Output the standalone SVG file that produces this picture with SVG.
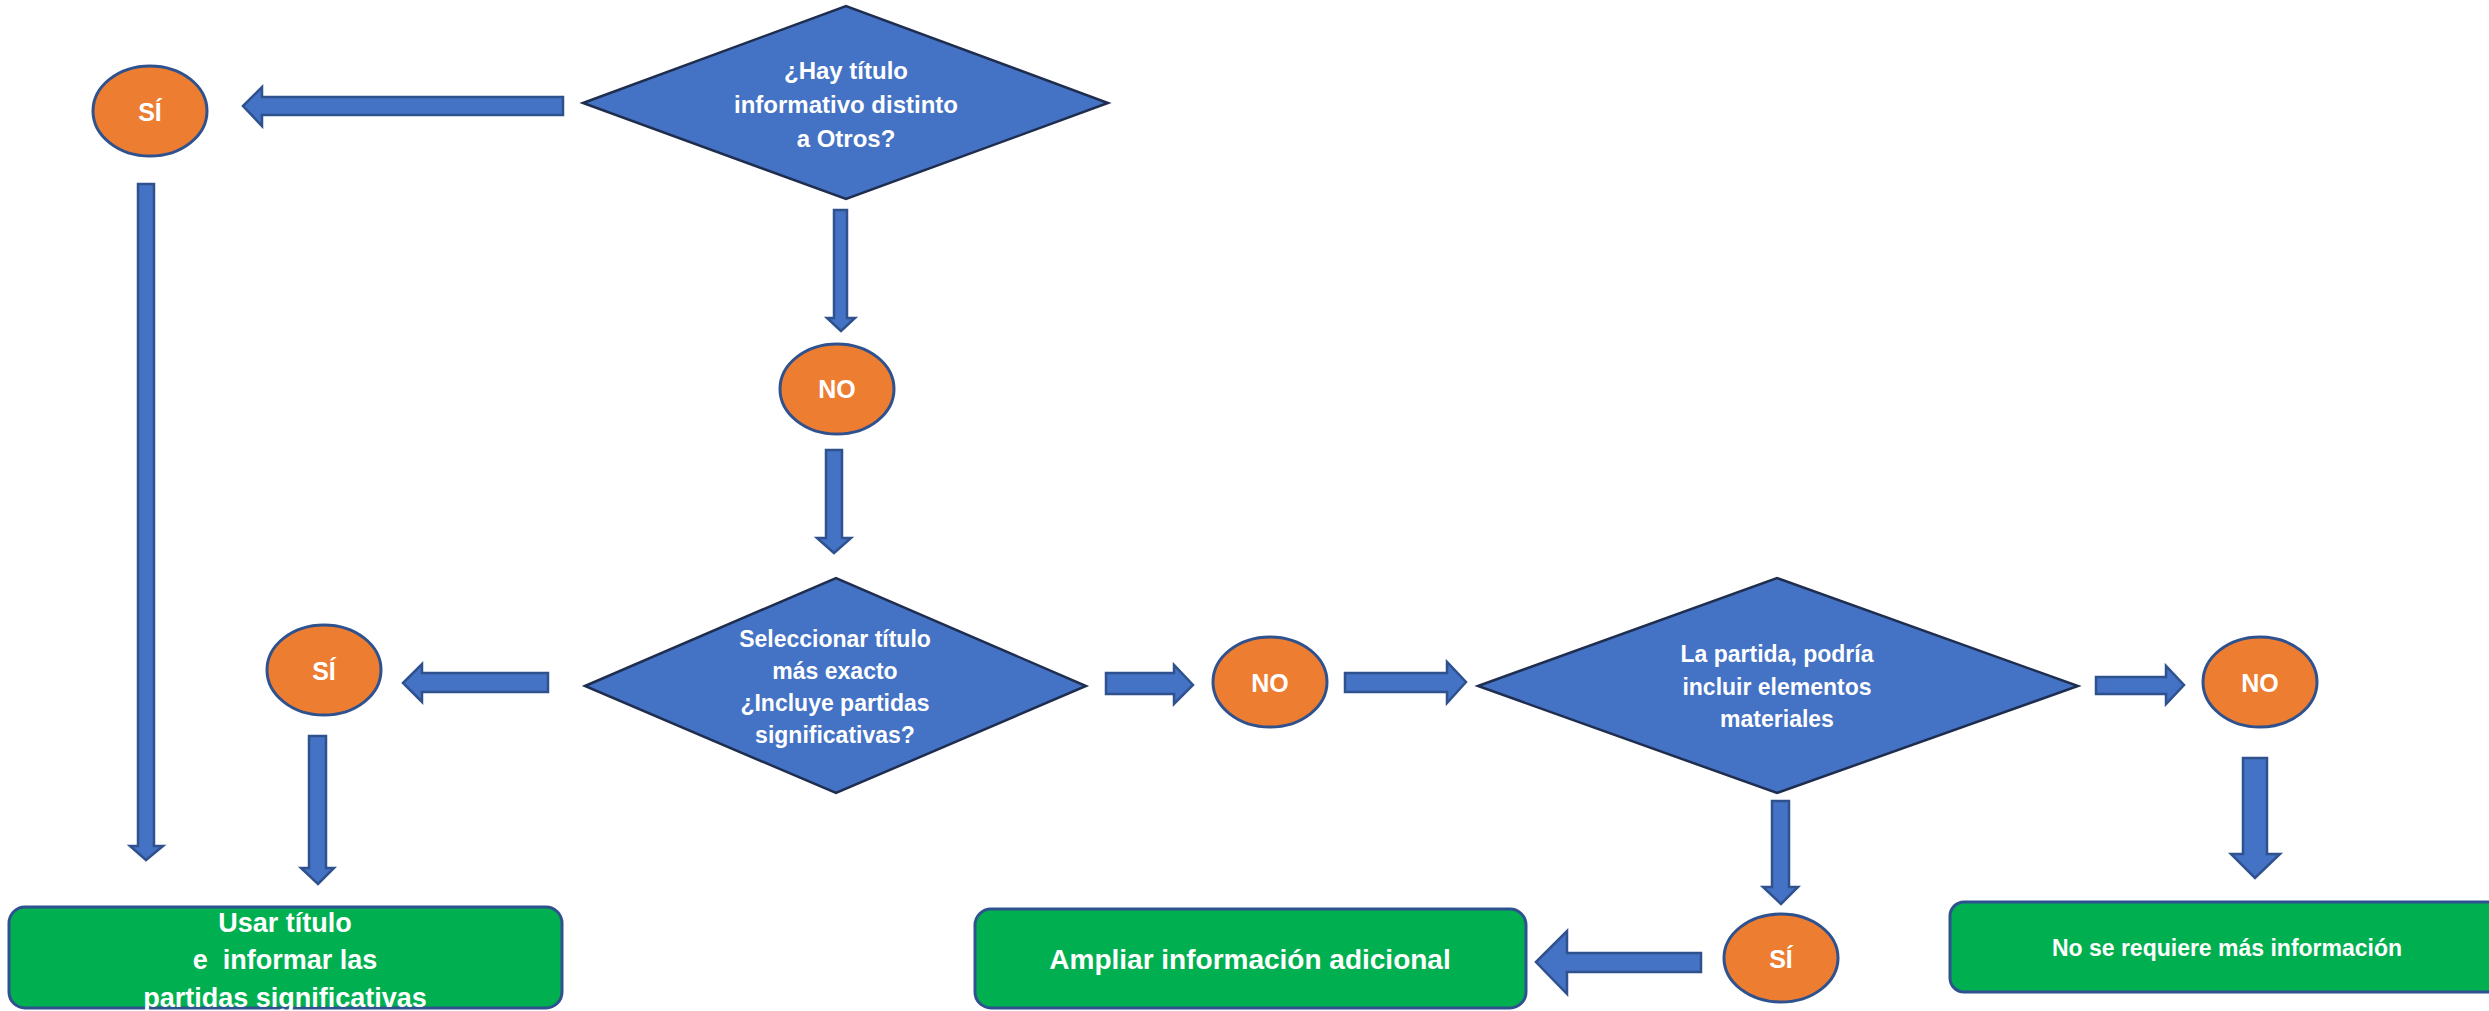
<svg xmlns="http://www.w3.org/2000/svg" width="2489" height="1011" viewBox="0 0 2489 1011">
<style>
.bg{fill:#ffffff}
.dia{fill:#4472C4;stroke:#1F2D4F;stroke-width:2.5}
.ell{fill:#ED7D31;stroke:#2F528F;stroke-width:3}
.box{fill:#00B050;stroke:#2F528F;stroke-width:3}
.arr{fill:#4472C4;stroke:#2F528F;stroke-width:2.5;stroke-linejoin:miter}
text{font-family:"Liberation Sans",Arial,sans-serif;font-weight:bold;fill:#ffffff;text-anchor:middle}
.t23{font-size:23px}
.t24{font-size:24px}
.t25{font-size:25px}
.t27{font-size:27px}
.t28{font-size:28px}
</style>
<rect class="bg" x="0" y="0" width="2489" height="1011"/>
<g id="connectors">
<polygon class="arr" points="243,106 262,87 262,97 563,97 563,115 262,115 262,126"/>
<polygon class="arr" points="834,210 847,210 847,318 855,318 841,331 827,318 834,318"/>
<polygon class="arr" points="826,450 842,450 842,538 851,538 834,553 817,538 826,538"/>
<polygon class="arr" points="138,184 154,184 154,846 163,846 146,860 130,846 138,846"/>
<polygon class="arr" points="403,683 422,664 422,673 548,673 548,692 422,692 422,702"/>
<polygon class="arr" points="309,736 326,736 326,868 334,868 318,884 301,868 309,868"/>
<polygon class="arr" points="1106,673 1174,673 1174,665 1193,685 1174,704 1174,694 1106,694"/>
<polygon class="arr" points="1345,673 1447,673 1447,662 1466,682 1447,703 1447,692 1345,692"/>
<polygon class="arr" points="2096,677 2166,677 2166,666 2184,685 2166,704 2166,694 2096,694"/>
<polygon class="arr" points="2243,758 2267,758 2267,854 2280,854 2255,878 2231,854 2243,854"/>
<polygon class="arr" points="1772,801 1789,801 1789,887 1798,887 1781,904 1763,887 1772,887"/>
<polygon class="arr" points="1536,962 1567,931 1567,953 1701,953 1701,972 1567,972 1567,994"/>
</g>
<g id="d1">
<polygon class="dia" points="583,103 846,6 1108,103 846,199"/>
<text class="t24" x="846" y="79">¿Hay título</text>
<text class="t24" x="846" y="113">informativo distinto</text>
<text class="t24" x="846" y="147">a Otros?</text>
</g>
<g id="si1">
<ellipse class="ell" cx="150" cy="111" rx="57" ry="45"/>
<text class="t25" x="150" y="121">SÍ</text>
</g>
<g id="no1">
<ellipse class="ell" cx="837" cy="389" rx="57" ry="45"/>
<text class="t25" x="837" y="398">NO</text>
</g>
<g id="d2">
<polygon class="dia" points="585,686 836,578 1086,686 836,793"/>
<text class="t23" x="835" y="647">Seleccionar título</text>
<text class="t23" x="835" y="679">más exacto</text>
<text class="t23" x="835" y="711">¿Incluye partidas</text>
<text class="t23" x="835" y="743">significativas?</text>
</g>
<g id="si2">
<ellipse class="ell" cx="324" cy="670" rx="57" ry="45"/>
<text class="t25" x="324" y="680">SÍ</text>
</g>
<g id="no2">
<ellipse class="ell" cx="1270" cy="682" rx="57" ry="45"/>
<text class="t25" x="1270" y="692">NO</text>
</g>
<g id="d3">
<polygon class="dia" points="1478,686 1777,578 2078,686 1777,793"/>
<text class="t23" x="1777" y="662">La partida, podría</text>
<text class="t23" x="1777" y="695">incluir elementos</text>
<text class="t23" x="1777" y="727">materiales</text>
</g>
<g id="no3">
<ellipse class="ell" cx="2260" cy="682" rx="57" ry="45"/>
<text class="t25" x="2260" y="692">NO</text>
</g>
<g id="si3">
<ellipse class="ell" cx="1781" cy="958" rx="57" ry="44"/>
<text class="t25" x="1781" y="968">SÍ</text>
</g>
<g id="box-usar">
<rect class="box" x="9" y="907" width="553" height="101" rx="16"/>
<text class="t27" x="285" y="932">Usar título</text>
<text class="t27" x="285" y="969" xml:space="preserve">e  informar las</text>
<text class="t27" x="285" y="1007">partidas significativas</text>
</g>
<g id="box-ampliar">
<rect class="box" x="975" y="909" width="551" height="99" rx="16"/>
<text class="t28" x="1250" y="969">Ampliar información adicional</text>
</g>
<g id="box-no-req">
<rect class="box" x="1950" y="902" width="560" height="90" rx="14"/>
<text class="t23" x="2227" y="956">No se requiere más información</text>
</g>
</svg>
